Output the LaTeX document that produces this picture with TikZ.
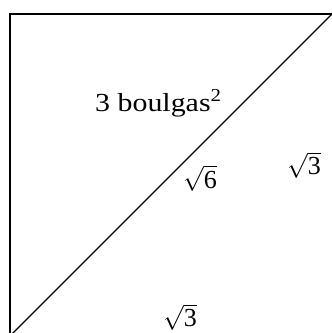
\documentclass[tikz,border=0pt]{standalone}
\usepackage{graphicx}
\usepackage{fontspec}
\setmainfont{Liberation Serif}
\usepackage{tikz}
\usetikzlibrary{positioning}
\usetikzlibrary{calc}
\tikzset{
	x=1pt, y=1pt,
	side/.style = {line width=2pt, line join=miter},
	diag/.style = {line width=1.3pt},
	lab/.style = {inner sep=0pt, font=\fontsize{26}{31}\selectfont},
}

\begin{document}
\begin{tikzpicture}
	\useasboundingbox (0,0) rectangle (332,333);
	\clip (0,0) rectangle (332,333);
	\coordinate (bl) at (10,-3);
	\coordinate (tl) at (10,319);
	\coordinate (tr) at (332,319);
	\draw[side] (bl) -- (tl) -- (tr);
	\draw[diag] (bl) -- (tr);
	\node (area) [lab, anchor=base west] at (95,222) {\scalebox{1.15}[1]{3 boulgas\textsuperscript{2}}};
	\node (hyp) [lab, anchor=base] at (200,145) {$\sqrt{\mbox{6}}$};
	\node (rside) [lab, anchor=base] at (304,158) {$\sqrt{\mbox{3}}$};
	\node (bside) [lab, anchor=base] at (180,6) {$\sqrt{\mbox{3}}$};
\end{tikzpicture}
\end{document}
